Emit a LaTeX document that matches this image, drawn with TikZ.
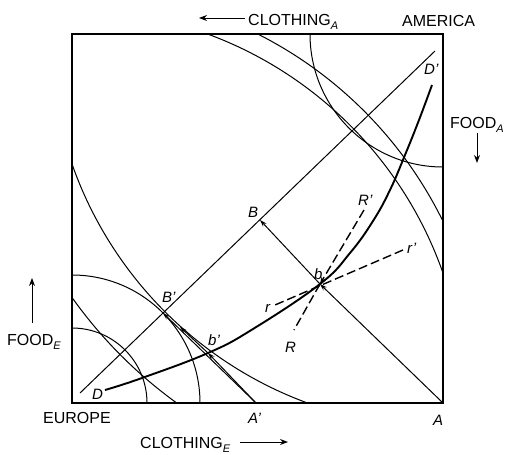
\documentclass[tikz,border=0pt]{standalone}
\usepackage{fontspec}
\setmainfont{Liberation Sans}
\usetikzlibrary{arrows.meta}
\newcommand\mysub[1]{\raisebox{-0.5ex}{\fontsize{11}{11}\selectfont\itshape #1}}
\begin{document}
\begin{tikzpicture}[x=1pt,y=-1pt,
  frame/.style={line width=1.2pt},
  thinl/.style={line width=1pt},
  contract/.style={line width=1.9pt},
  dsh/.style={line width=1.4pt, dash pattern=on 9pt off 4pt},
  arr/.style={-{Stealth[length=7pt,width=4.5pt]}},
  axarr/.style={line width=1pt,-{Stealth[length=8pt,width=6pt]}},
  lab/.style={font=\fontsize{15}{15}\selectfont\itshape, inner sep=0pt, anchor=base west},
  axl/.style={font=\fontsize{16}{16}\selectfont, inner sep=0pt, anchor=base west}]
\useasboundingbox (0,0) rectangle (506,455);
% box corners
\coordinate (E) at (72,403);
\coordinate (Am) at (443,34);
\coordinate (A) at (443,403);
\draw[frame] (E) rectangle (Am);
% indifference curves
\begin{scope}
  \clip (E) rectangle (Am);
  \draw[thinl] (E) circle[radius=75pt];
  \draw[thinl] (E) circle[radius=128pt];
  \draw[thinl] (E) circle[radius=393pt];
  \draw[thinl] (E) circle[radius=413pt];
  \draw[thinl] (Am) circle[radius=133pt];
  \draw[thinl] (Am) circle[radius=393pt];
  \draw[thinl] (Am) circle[radius=455pt];
\end{scope}
% straight line D D'
\coordinate (Ls) at (80,393);
\coordinate (Le) at (435,51);
\draw[thinl] (Ls) -- (Le);
% points
\coordinate (B) at (260,220);
\coordinate (Bp) at (163,313);
\coordinate (b) at (320,284);
\coordinate (Ap) at (256,403);
\coordinate (bp) at (208,353);
\coordinate (p) at (180,327);
% arrows
\draw[thinl,arr] (A) -- (b);
\draw[thinl,arr] (b) -- (B);
\draw[thinl,arr] (Ap) -- (Bp);
\draw[thinl,arr] (Ap) -- (bp);
\draw[thinl,arr] (bp) -- (p);
% contract curve
\coordinate (D0) at (105,390);
\coordinate (Dp0) at (432,85);
\draw[contract] plot[smooth, tension=0.7] coordinates {(D0) (142,378) (bp) (253,329) (b) (350,253) (373,221) (390,190) (405,155) (419,120) (Dp0)};
% dashed lines
\coordinate (Rt) at (364,210);
\coordinate (Rb) at (294,330);
\coordinate (rt) at (403,250);
\coordinate (rb) at (275,305);
\draw[dsh,arr] (Rt) -- (b);
\draw[dsh] (b) -- (Rb);
\draw[dsh] (rt) -- (rb);
% axis labels
\node[axl] (clA) at (248,25) {CLOTHING\mysub{A}};
\coordinate (caT) at (245,18);
\coordinate (caH) at (199,18);
\draw[axarr] (caT) -- (caH);
\node[axl] (america) at (402,26.5) {AMERICA};
\node[axl] (foodA) at (450,128) {FOOD\mysub{A}};
\coordinate (faT) at (477,133);
\coordinate (faH) at (477,163);
\draw[axarr] (faT) -- (faH);
\node[axl] (foodE) at (7,345) {FOOD\mysub{E}};
\coordinate (feT) at (32,323);
\coordinate (feH) at (32,278);
\draw[axarr] (feT) -- (feH);
\node[axl] (europe) at (43,423) {EUROPE};
\node[axl] (clE) at (140,448) {CLOTHING\mysub{E}};
\coordinate (ceT) at (240,442);
\coordinate (ceH) at (288,442);
\draw[axarr] (ceT) -- (ceH);
% point labels
\node[lab] (lDp) at (424,74) {D'};
\node[lab] (lB) at (248,217) {B};
\node[lab] (lBp) at (162,302) {B'};
\node[lab] (lbp) at (208,345) {b'};
\node[lab] (lb) at (314,279) {b};
\node[lab] (lRp) at (358,205) {R'};
\node[lab] (lrp) at (407,253) {r'};
\node[lab] (lr) at (265,312) {r};
\node[lab] (lR) at (285,352) {R};
\node[lab] (lD) at (92,399) {D};
\node[lab] (lAp) at (248,423) {A'};
\node[lab] (lA) at (433,425) {A};
\end{tikzpicture}
\end{document}
